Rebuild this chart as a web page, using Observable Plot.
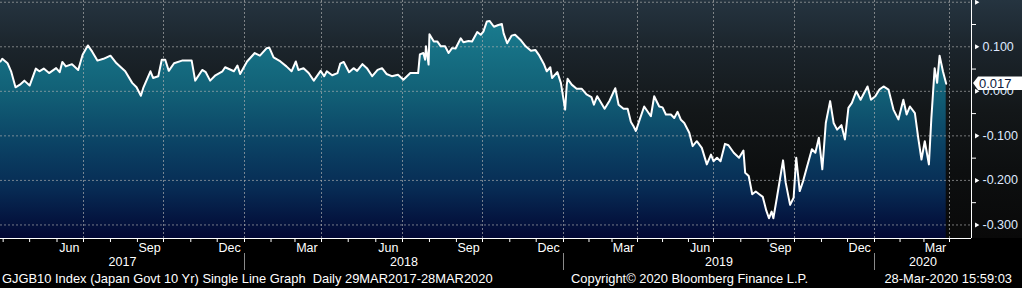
<!DOCTYPE html>
<html>
<head>
<meta charset="utf-8">
<script src="https://cdn.jsdelivr.net/npm/d3@7"></script>
<script src="https://cdn.jsdelivr.net/npm/@observablehq/plot@0.6"></script>
<style>
html, body { margin: 0; padding: 0; background: #000; width: 1022px; height: 288px; overflow: hidden; }
#chart svg { display: block; }
#footer { position: relative; height: 18px; width: 1022px; font-family: "Liberation Sans", Arial, sans-serif; font-size: 12.9px; color: #fff; white-space: pre; }
#footer span { position: absolute; top: 1px; }
</style>
</head>
<body>
<div id="chart"></div>
<div id="footer"><span style="left:2px">GJGB10 Index (Japan Govt 10 Yr) Single Line Graph  Daily 29MAR2017-28MAR2020</span><span style="left:571px">Copyright© 2020 Bloomberg Finance L.P.</span><span style="right:10px">28-Mar-2020 15:59:03</span></div>
<script>
// ---- Data ----
const dates = [
"2017-03-29","2017-03-31","2017-04-06","2017-04-10","2017-04-15","2017-04-20","2017-04-25","2017-05-01","2017-05-08","2017-05-12",
"2017-05-17","2017-05-23","2017-05-31","2017-06-04","2017-06-07","2017-06-11","2017-06-18","2017-06-25","2017-06-30","2017-07-06",
"2017-07-11","2017-07-17","2017-07-24","2017-08-01","2017-08-08","2017-08-18","2017-08-26","2017-08-31","2017-09-05","2017-09-08",
"2017-09-16","2017-09-19","2017-09-25","2017-09-29","2017-10-03","2017-10-07","2017-10-13","2017-10-22","2017-11-02","2017-11-06",
"2017-11-14","2017-11-18","2017-11-23","2017-11-29","2017-12-07","2017-12-10","2017-12-20","2017-12-24","2017-12-27",
"2018-01-04","2018-01-13","2018-01-19","2018-01-27","2018-01-30","2018-02-04","2018-02-12","2018-02-19","2018-02-25","2018-03-02",
"2018-03-05","2018-03-11","2018-03-17","2018-03-23","2018-03-31","2018-04-04","2018-04-07","2018-04-13","2018-04-19","2018-04-22",
"2018-04-26","2018-05-02","2018-05-07","2018-05-11","2018-05-17","2018-05-22","2018-05-28","2018-06-03","2018-06-08","2018-06-13",
"2018-06-19","2018-06-26","2018-07-02","2018-07-10","2018-07-19","2018-07-21","2018-07-25","2018-07-27","2018-07-28","2018-07-31",
"2018-08-01","2018-08-06","2018-08-10","2018-08-14","2018-08-19","2018-08-23","2018-08-27","2018-08-31","2018-09-06","2018-09-09",
"2018-09-15","2018-09-19","2018-09-25","2018-09-29","2018-10-02","2018-10-06","2018-10-09","2018-10-14","2018-10-19","2018-10-23",
"2018-10-25","2018-10-29","2018-11-03","2018-11-07","2018-11-13","2018-11-19","2018-11-25","2018-11-30","2018-12-04","2018-12-10",
"2018-12-13","2018-12-17","2018-12-19","2018-12-25","2018-12-29",
"2019-01-03","2019-01-05","2019-01-06","2019-01-11","2019-01-17","2019-01-23","2019-01-29","2019-02-04","2019-02-07","2019-02-11",
"2019-02-20","2019-02-26","2019-03-05","2019-03-09","2019-03-15","2019-03-20","2019-03-24","2019-03-27","2019-03-30","2019-04-03",
"2019-04-09","2019-04-17","2019-04-21","2019-04-27","2019-05-01","2019-05-05","2019-05-11","2019-05-15","2019-05-19","2019-05-23",
"2019-05-27","2019-06-02","2019-06-06","2019-06-11","2019-06-17","2019-06-23","2019-06-28","2019-07-01","2019-07-05","2019-07-09",
"2019-07-14","2019-07-18","2019-07-24","2019-07-30","2019-08-04","2019-08-06","2019-08-10","2019-08-14","2019-08-18","2019-08-22",
"2019-08-26","2019-08-30","2019-09-02","2019-09-05","2019-09-07","2019-09-11","2019-09-14","2019-09-18","2019-09-21","2019-09-26",
"2019-09-30","2019-10-03","2019-10-07","2019-10-11","2019-10-15","2019-10-21","2019-10-25","2019-10-29","2019-11-02","2019-11-06",
"2019-11-11","2019-11-15","2019-11-19","2019-11-24","2019-11-28","2019-12-02","2019-12-06","2019-12-11","2019-12-16","2019-12-24",
"2019-12-28",
"2020-01-02","2020-01-07","2020-01-12","2020-01-18","2020-01-24","2020-01-30","2020-02-05","2020-02-09","2020-02-13","2020-02-19",
"2020-02-23","2020-02-27","2020-03-02","2020-03-07","2020-03-10","2020-03-14","2020-03-17","2020-03-20","2020-03-24","2020-03-28"
];
const yields = [
0.067,0.073,0.063,0.045,0.009,0.015,0.024,0.013,0.051,0.045,
0.051,0.041,0.052,0.043,0.066,0.056,0.061,0.048,0.082,0.103,
0.089,0.069,0.073,0.080,0.063,0.045,0.019,0.009,-0.010,0.009,
0.045,0.030,0.034,0.071,0.071,0.046,0.063,0.069,0.069,0.024,
0.048,0.043,0.024,0.036,0.045,0.054,0.045,0.058,0.039,
0.067,0.086,0.080,0.097,0.098,0.076,0.067,0.056,0.045,0.067,
0.048,0.052,0.041,0.024,0.046,0.034,0.045,0.036,0.041,0.062,
0.066,0.043,0.052,0.046,0.061,0.052,0.034,0.048,0.052,0.039,
0.034,0.037,0.026,0.041,0.041,0.083,0.086,0.071,0.101,0.060,
0.128,0.112,0.112,0.101,0.101,0.086,0.097,0.096,0.119,0.110,
0.113,0.112,0.133,0.127,0.134,0.157,0.158,0.145,0.149,0.151,
0.130,0.108,0.125,0.127,0.116,0.101,0.091,0.093,0.082,0.060,
0.045,0.054,0.030,0.043,0.019,
-0.041,0.015,0.028,0.015,0.006,0.006,-0.007,-0.013,-0.030,-0.011,
-0.039,-0.021,0.007,-0.030,-0.039,-0.039,-0.069,-0.078,-0.089,-0.067,
-0.034,-0.056,-0.011,-0.034,-0.036,-0.052,-0.052,-0.060,-0.046,-0.064,
-0.071,-0.093,-0.123,-0.112,-0.127,-0.164,-0.142,-0.157,-0.149,-0.157,
-0.118,-0.121,-0.138,-0.149,-0.133,-0.183,-0.190,-0.231,-0.225,-0.231,
-0.237,-0.268,-0.285,-0.270,-0.285,-0.239,-0.203,-0.155,-0.205,-0.255,
-0.239,-0.149,-0.224,-0.201,-0.172,-0.130,-0.138,-0.104,-0.175,-0.071,
-0.022,-0.071,-0.086,-0.076,-0.108,-0.037,-0.026,0.000,-0.019,0.011,
-0.019,
-0.011,0.004,0.011,0.004,-0.041,-0.063,-0.019,-0.052,-0.034,-0.049,
-0.104,-0.153,-0.112,-0.164,-0.060,0.052,0.019,0.080,0.045,0.017
];
const lastValue = 0.017;

// Axis tick values
const yMajorTicks = [0.2, 0.1, 0.0, -0.1, -0.2, -0.3];
const yLabelTicks = [0.1, 0.0, -0.1, -0.2, -0.3];
const yMinorTicks = [0.15, 0.05, -0.05, -0.15, -0.25];
const gridQuarters = ["2017-07-01","2017-10-01","2018-01-01","2018-04-01","2018-07-01","2018-10-01","2019-01-01","2019-04-01","2019-07-01","2019-10-01","2020-01-01","2020-04-01"];
const monthLabels = ["2017-06-15","2017-09-15","2017-12-15","2018-03-15","2018-06-15","2018-09-15","2018-12-15","2019-03-15","2019-06-15","2019-09-15","2019-12-15","2020-03-15"];
const yearLabels = ["2017","2018","2019","2020"];

// Bloomberg-style (trading-day) time axis: piecewise time scale knots
const xKnots = ["2017-03-29", ...gridQuarters, "2020-04-26"].map(d3.isoParse);
const xKnotPx = [0, 83, 163, 244, 321, 402, 482, 563, 637, 713, 794, 874, 949, 971];
const yDomain = [-0.3304, 0.2039];

const xOptions = {type: "utc", domain: xKnots, range: xKnotPx, label: null};
const xScale = Plot.scale({x: xOptions});

const data = dates.map((d, i) => ({date: d3.isoParse(d), value: yields[i]}));
const domainStart = xKnots[0], domainEnd = xKnots[xKnots.length - 1];
const monthTicks = d3.utcMonths(domainStart, domainEnd);
const yearStarts = yearLabels.slice(1).map(y => d3.isoParse(y + "-01-01"));
// year labels centred on the visible part of each year
const yearMids = yearLabels.map(y => {
  const a = Math.max(+domainStart, +d3.isoParse(y + "-01-01"));
  const b = Math.min(+domainEnd, +d3.isoParse((+y + 1) + "-01-01"));
  const px = (xScale.apply(new Date(a)) + xScale.apply(new Date(b))) / 2;
  return {year: y, date: xScale.invert(px)};
});

const FONT = "'Liberation Sans', Arial, sans-serif";

function defsMark(index, scales, values, dims) {
  const bottom = dims.height - dims.marginBottom;
  const defs = d3.create("svg:defs");
  const g = defs.append("linearGradient").attr("id", "areaFill")
    .attr("gradientUnits", "userSpaceOnUse")
    .attr("x1", 0).attr("x2", 0).attr("y1", dims.marginTop).attr("y2", bottom);
  [[0, "#1b8798"], [0.1, "#197b8e"], [0.38, "#126177"], [0.6, "#0b4365"], [0.8, "#072a53"], [1, "#020733"]]
    .forEach(([o, c]) => g.append("stop").attr("offset", o).attr("stop-color", c));
  return defs.node();
}

function lastValueBox(index, scales, values, dims) {
  const y = Math.round(scales.y(lastValue));
  const x0 = dims.width - dims.marginRight;
  const g = d3.create("svg:g");
  const pts = [[x0 + 2, y], [x0 + 7, y - 6.5], [dims.width, y - 6.5], [dims.width, y + 7], [x0 + 7, y + 7]];
  g.append("polygon")
    .attr("points", pts.map(p => p.join(",")).join(" "))
    .attr("style", "fill:#ffffff;stroke:none");
  g.append("text")
    .attr("x", x0 + 8).attr("y", y).attr("dy", "0.38em")
    .attr("style", `fill:#0c1a3c;font-size:13px;font-family:${FONT};text-anchor:start`)
    .text(lastValue.toFixed(3));
  return g.node();
}

const gridStyle = {stroke: "#b0b0b0", strokeOpacity: 0.65, strokeDasharray: "2,2"};

const chart = Plot.plot({
  width: 1022,
  height: 270,
  marginTop: 0,
  marginBottom: 32,
  marginLeft: 0,
  marginRight: 51,
  style: {
    background: "linear-gradient(to bottom, #253440 0px, #1b242b 50px, #131719 110px, #0d0f10 170px, #090909 238px, #000 238px)",
    color: "white",
    fontFamily: FONT,
    fontSize: "12.5px"
  },
  x: xOptions,
  y: {domain: yDomain, label: null},
  marks: [
    defsMark,
    Plot.areaY(data, {x: "date", y1: yDomain[0], y2: "value", fill: "url(#areaFill)", curve: "linear"}),
    Plot.ruleY(yMajorTicks, {y: d => d, ...gridStyle}),
    Plot.ruleX(gridQuarters.map(d3.isoParse), {x: d => d, ...gridStyle}),
    Plot.lineY(data, {x: "date", y: "value", stroke: "white", strokeWidth: 2, strokeLinejoin: "round"}),
    Plot.ruleY([yDomain[0]], {stroke: "white", strokeWidth: 1}),
    Plot.ruleX([domainEnd], {stroke: "white", strokeWidth: 1}),
    Plot.axisX(monthTicks, {tickSize: 4, stroke: "white", fill: "none", label: null}),
    Plot.axisX(yearStarts, {tickSize: 17, stroke: "#8a8a8a", fill: "none", label: null, dy: 15}),
    Plot.text(monthLabels.map(d3.isoParse), {x: d => d, frameAnchor: "bottom", lineAnchor: "top", dy: 5, text: d => d3.utcFormat("%b")(d), fill: "white", fontSize: 12.5}),
    Plot.text(yearMids, {x: "date", frameAnchor: "bottom", lineAnchor: "top", dy: 19, text: "year", fill: "white", fontSize: 12.5}),
    Plot.axisY(yMinorTicks, {anchor: "right", tickSize: 4, stroke: "white", fill: "none", label: null}),
    Plot.dot(yMajorTicks, {y: d => d, frameAnchor: "right", dx: 5, symbol: "triangle2", rotate: 90, r: 2.4, fill: "white"}),
    Plot.text(yLabelTicks, {y: d => d, frameAnchor: "right", dx: 11, textAnchor: "start", text: d => d.toFixed(3), fill: "#dfe9ff", fontSize: 12.5}),
    lastValueBox
  ]
});
document.getElementById("chart").appendChild(chart);
</script>
</body>
</html>
